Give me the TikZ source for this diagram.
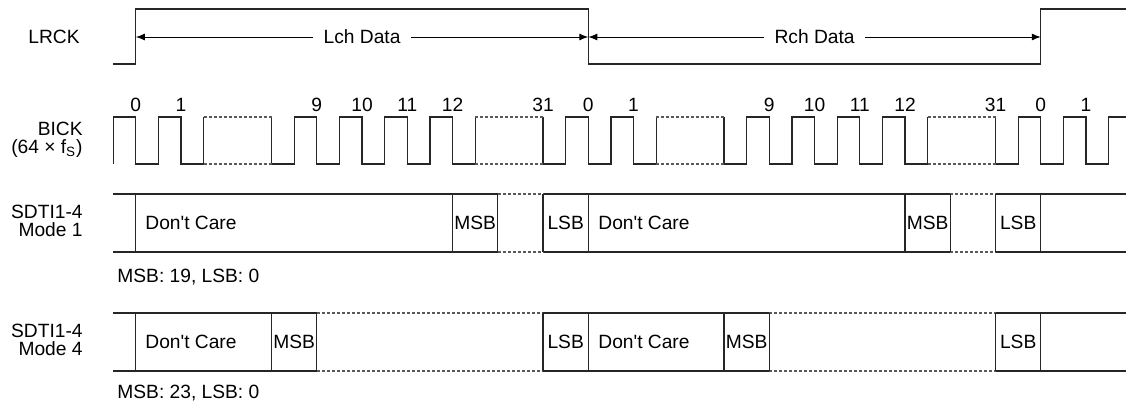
\documentclass[tikz,border=0pt]{standalone}
\usepackage{fontspec}
\setmainfont{Liberation Sans}
\usetikzlibrary{arrows.meta}
\newcommand{\dontcare}{Don\textquotesingle t Care}
\begin{document}
\begin{tikzpicture}[x=0.5pt,y=-0.5pt,
  wave/.style={line width=0.6pt, draw=black!85},
  dots/.style={line width=0.6pt, draw=black!65, dash pattern=on 1.5pt off 1pt},
  arr/.style={line width=0.5pt, draw=black, -{Latex[length=4.5pt,width=3.5pt]}},
  lbl/.style={font=\fontsize{9.6}{9}\selectfont, inner sep=0pt, text=black},
  side/.style={lbl, align=right, anchor=east},
  num/.style={lbl, anchor=center}]
\useasboundingbox (0,0) rectangle (1126,409);

% ---------------- LRCK ----------------
\node[side] (lrck) at (80,37) {LRCK};
\draw[wave] (113.2,64) -- (135.825,64) -- (135.825,9) -- (588.325,9)
  -- (588.325,64) -- (1040.825,64) -- (1040.825,9) -- (1126,9);
\node[lbl, inner xsep=5pt] (lch) at (362.075,37) {Lch Data};
\node[lbl, inner xsep=5pt] (rch) at (814.575,37) {Rch Data};
\coordinate (eL0) at (135.825,37);
\coordinate (eL1) at (588.325,37);
\coordinate (eR1) at (1040.825,37);
\draw[arr] (lch.west) -- (eL0);
\draw[arr] (lch.east) -- (eL1);
\draw[arr] (rch.west) -- (eL1);
\draw[arr] (rch.east) -- (eR1);

% ---------------- BICK ----------------
\node[side] (bick) at (83,140) {BICK\\(64 × f\textsubscript{S})};
\draw[wave] (113.2,164) \foreach \i in {0,1}{ -- ++(0,-47) -- ++(22.625,0) -- ++(0,47) -- ++(22.625,0)} -- ++(0,-47);
\draw[wave] (271.575,117) -- ++(0,47) -- ++(22.625,0) \foreach \i in {1,...,4}{ -- ++(0,-47) -- ++(22.625,0) -- ++(0,47) -- ++(22.625,0)} -- ++(0,-47);
\draw[wave] (543.075,117) -- ++(0,47) -- ++(22.625,0) \foreach \i in {1,2}{ -- ++(0,-47) -- ++(22.625,0) -- ++(0,47) -- ++(22.625,0)} -- ++(0,-47);
\draw[wave] (724.075,117) -- ++(0,47) -- ++(22.625,0) \foreach \i in {1,...,4}{ -- ++(0,-47) -- ++(22.625,0) -- ++(0,47) -- ++(22.625,0)} -- ++(0,-47);
\draw[wave] (995.575,117) -- ++(0,47) -- ++(22.625,0) \foreach \i in {1,2}{ -- ++(0,-47) -- ++(22.625,0) -- ++(0,47) -- ++(22.625,0)} -- ++(0,-47) -- (1126,117);
\foreach \a/\b in {203.7/271.575, 475.2/543.075, 656.2/724.075, 927.7/995.575}{
  \draw[dots] (\a,117) -- (\b,117);
  \draw[dots] (\a,164) -- (\b,164);
}
\foreach \x/\t [count=\n] in {135.825/0, 181.075/1, 316.825/9, 362.075/10, 407.325/11, 452.575/12,
  543.075/31, 588.325/0, 633.575/1, 769.325/9, 814.575/10, 859.825/11, 905.075/12,
  995.575/31, 1040.825/0, 1086.075/1}{
  \node[num] (n\n) at (\x,105) {\t};
}

% ---------------- SDTI Mode 1 ----------------
\node[side] (m1) at (83,221) {SDTI1-4\\Mode 1};
\foreach \y in {194,252}{
  \draw[wave] (113.2,\y) -- (497.825,\y);
  \draw[wave] (543.075,\y) -- (950.325,\y);
  \draw[wave] (995.575,\y) -- (1126,\y);
  \draw[dots] (497.825,\y) -- (543.075,\y);
  \draw[dots] (950.325,\y) -- (995.575,\y);
}
\foreach \x in {135.825, 452.575, 497.825, 543.075, 588.325, 905.075, 950.325, 995.575, 1040.825}{
  \draw[wave] (\x,194) -- (\x,252);
}
\node[lbl, anchor=west] (dc1a) at (145,223) {\dontcare};
\node[lbl] (msb1a) at (475.2,223) {MSB};
\node[lbl] (lsb1a) at (565.7,223) {LSB};
\node[lbl, anchor=west] (dc1b) at (598,223) {\dontcare};
\node[lbl] (msb1b) at (927.7,223) {MSB};
\node[lbl] (lsb1b) at (1018.2,223) {LSB};
\node[lbl, anchor=west] (note1) at (117,277) {MSB: 19, LSB: 0};

% ---------------- SDTI Mode 4 ----------------
\node[side] (m4) at (83,340) {SDTI1-4\\Mode 4};
\foreach \y in {313,371}{
  \draw[wave] (113.2,\y) -- (316.825,\y);
  \draw[wave] (543.075,\y) -- (769.325,\y);
  \draw[wave] (995.575,\y) -- (1126,\y);
  \draw[dots] (316.825,\y) -- (543.075,\y);
  \draw[dots] (769.325,\y) -- (995.575,\y);
}
\foreach \x in {135.825, 271.575, 316.825, 543.075, 588.325, 724.075, 769.325, 995.575, 1040.825}{
  \draw[wave] (\x,313) -- (\x,371);
}
\node[lbl, anchor=west] (dc4a) at (145,342) {\dontcare};
\node[lbl] (msb4a) at (294.2,342) {MSB};
\node[lbl] (lsb4a) at (565.7,342) {LSB};
\node[lbl, anchor=west] (dc4b) at (598,342) {\dontcare};
\node[lbl] (msb4b) at (746.7,342) {MSB};
\node[lbl] (lsb4b) at (1018.2,342) {LSB};
\node[lbl, anchor=west] (note4) at (117,393) {MSB: 23, LSB: 0};
\end{tikzpicture}
\end{document}
